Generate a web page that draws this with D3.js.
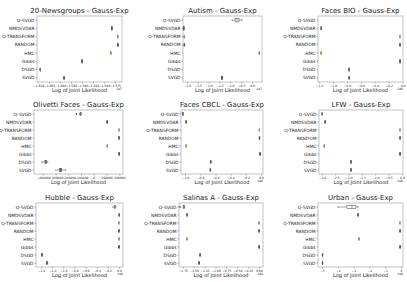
<!DOCTYPE html>
<html>
<head>
<meta charset="utf-8">
<script src="https://cdn.jsdelivr.net/npm/d3@7"></script>
<style>
  body { margin: 0; background: #fff; }
  text { font-family: "DejaVu Sans", sans-serif; fill: #222; }
</style>
</head>
<body>
<svg id="chart"></svg>
<script>
// methods, top to bottom
const methods = ["Q-SVGD", "NMDSVDAR", "Q-TRANSFORM", "RANDOM", "HMC", "Gibbs", "DSGD", "SVGD"];
const methodColors = ["#ffffff", "#b07a45", "#d9c38f", "#6e6e6e", "#eaa355", "#333333", "#a0a0a0", "#7a6a5a"];

const titles = ["20-Newsgroups - Gauss-Exp", "Autism - Gauss-Exp", "Faces BIO - Gauss-Exp",
  "Olivetti Faces - Gauss-Exp", "Faces CBCL - Gauss-Exp", "LFW - Gauss-Exp",
  "Hubble - Gauss-Exp", "Salinas A - Gauss-Exp", "Urban - Gauss-Exp"];
const exponents = ["1e7", "1e7", "1e6", "", "1e6", "1e6", "1e8", "1e9", "1e8"];

// x domains
const domains = [[-1.6105, -1.5718], [-3.18, 0.46], [-1.215, 0.005],
  [-470000, 230000], [-1.053, 0.026], [-3.11, 0.04],
  [-1.49, 0.072], [-1.84, 0.092], [-5.25, 0.13]];

// tick values
const ticks20News = [-1.610, -1.605, -1.600, -1.595, -1.590, -1.585, -1.580, -1.575];
const ticksAutism = [-3.0, -2.5, -2.0, -1.5, -1.0, -0.5, 0.0];
const ticksBio = [-1.2, -1.0, -0.8, -0.6, -0.4, -0.2, 0.0];
const ticksOlivetti = [-400000, -300000, -200000, -100000, 0, 100000, 200000];
const ticksCbcl = [-1.0, -0.8, -0.6, -0.4, -0.2, 0.0];
const ticksLfw = [-3.0, -2.5, -2.0, -1.5, -1.0, -0.5, 0.0];
const ticksHubble = [-1.4, -1.2, -1.0, -0.8, -0.6, -0.4, -0.2, 0.0];
const ticksSalinas = [-1.75, -1.50, -1.25, -1.00, -0.75, -0.50, -0.25, 0.00];
const ticksUrban = [-5, -4, -3, -2, -1, 0];

// box stats per method: [min, q1, median, q3, max]; null = not shown
const stats20News = [null,
  [-1.5765, -1.5765, -1.5764, -1.5763, -1.5763],
  [-1.5739, -1.5738, -1.5737, -1.5736, -1.5735],
  [-1.5739, -1.5738, -1.5737, -1.5736, -1.5735],
  [-1.5769, -1.5769, -1.5769, -1.5769, -1.5769],
  [-1.5901, -1.5901, -1.5900, -1.5899, -1.5899],
  [-1.6091, -1.6091, -1.6091, -1.6091, -1.6091],
  [-1.5983, -1.5983, -1.5982, -1.5981, -1.5981]];
const statsAutism = [[-0.92, -0.78, -0.69, -0.60, -0.46],
  [-3.15, -3.15, -3.15, -3.15, -3.15],
  [-3.14, -3.14, -3.12, -3.10, -3.10],
  [-3.14, -3.13, -3.12, -3.11, -3.10],
  [0.33, 0.33, 0.33, 0.33, 0.33],
  null, null,
  [-1.41, -1.41, -1.38, -1.35, -1.35]];
const statsBio = [null,
  [-1.172, -1.172, -1.172, -1.172, -1.172],
  [-0.042, -0.041, -0.039, -0.037, -0.036],
  [-0.042, -0.041, -0.039, -0.037, -0.036],
  [-1.172, -1.172, -1.172, -1.172, -1.172],
  [-0.042, -0.041, -0.039, -0.037, -0.036],
  [-0.775, -0.772, -0.770, -0.768, -0.765],
  [-0.775, -0.772, -0.770, -0.768, -0.765]];
const statsOlivetti = [[-112000, -108000, -104000, -100000, -96000],
  [100000, 103000, 105000, 107000, 110000],
  [199000, 199000, 199000, 199000, 199000],
  [195000, 197000, 199000, 201000, 203000],
  [105000, 105000, 105000, 105000, 105000],
  [196000, 198000, 199000, 200000, 202000],
  [-408000, -384000, -377000, -370000, -361000],
  [-299000, -268000, -260000, -252000, -221000]];
const statsCbcl = [[-1.032, -1.030, -1.027, -1.024, -1.022],
  [-0.992, -0.989, -0.987, -0.985, -0.982],
  [-0.023, -0.023, -0.023, -0.023, -0.023],
  [-0.024, -0.023, -0.022, -0.021, -0.020],
  [-0.987, -0.987, -0.987, -0.987, -0.987],
  [-0.018, -0.016, -0.014, -0.012, -0.010],
  [-0.667, -0.665, -0.662, -0.659, -0.657],
  [-0.672, -0.670, -0.667, -0.664, -0.662]];
const statsLfw = [[-3.01, -3.00, -2.998, -2.99, -2.98],
  [-2.895, -2.890, -2.885, -2.880, -2.875],
  [-0.073, -0.073, -0.073, -0.073, -0.073],
  [-0.085, -0.078, -0.073, -0.068, -0.060],
  [-2.92, -2.92, -2.92, -2.92, -2.92],
  [-0.085, -0.080, -0.073, -0.066, -0.060],
  [-1.93, -1.92, -1.91, -1.90, -1.89],
  [-1.92, -1.915, -1.91, -1.905, -1.90]];
const statsHubble = [[-0.11, -0.085, -0.072, -0.06, -0.055],
  [0.0, 0.0, 0.0, 0.0, 0.0],
  [-0.006, -0.004, -0.002, 0.0, 0.002],
  [-0.006, -0.004, -0.002, 0.0, 0.002],
  [0.0, 0.0, 0.0, 0.0, 0.0],
  [-0.006, -0.004, -0.002, 0.0, 0.002],
  [-1.392, -1.387, -1.382, -1.377, -1.372],
  [-1.305, -1.298, -1.293, -1.288, -1.280]];
const statsSalinas = [[-1.745, -1.735, -1.725, -1.715, -1.705],
  [-1.662, -1.659, -1.656, -1.653, -1.650],
  [-0.005, -0.003, -0.001, 0.001, 0.003],
  [-0.005, -0.003, -0.001, 0.001, 0.003],
  [-1.656, -1.656, -1.656, -1.656, -1.656],
  [-0.005, -0.003, -0.001, 0.001, 0.003],
  [-1.366, -1.361, -1.356, -1.351, -1.346],
  [-1.389, -1.384, -1.379, -1.374, -1.369]];
const statsUrban = [[-3.99, -3.42, -3.10, -2.85, -2.72],
  [-2.74, -2.73, -2.72, -2.71, -2.70],
  [-0.08, -0.07, -0.06, -0.05, -0.04],
  [-0.08, -0.07, -0.06, -0.05, -0.04],
  [-2.66, -2.66, -2.66, -2.66, -2.66],
  [-0.09, -0.07, -0.06, -0.05, -0.03],
  [-4.99, -4.98, -4.97, -4.96, -4.95],
  [-4.99, -4.98, -4.97, -4.96, -4.95]];

// outliers: [methodIndex, value]
const outliersOlivetti = [[0, -136000]];
const outliersSalinas = [[0, -1.817]];

const allTicks = [ticks20News, ticksAutism, ticksBio, ticksOlivetti, ticksCbcl, ticksLfw, ticksHubble, ticksSalinas, ticksUrban];
const allStats = [stats20News, statsAutism, statsBio, statsOlivetti, statsCbcl, statsLfw, statsHubble, statsSalinas, statsUrban];
const allOutliers = [[], [], [], outliersOlivetti, [], [], [], outliersSalinas, []];

// plot area boxes per panel [x0, x1, y0, y1]
const frames = [[37, 122, 16, 82], [183, 262, 16, 82], [318, 403, 16, 82],
  [34, 123, 110, 174], [181, 263, 110, 174], [319, 403, 110, 174],
  [36, 123, 203, 267], [179, 263, 203, 267], [318, 403, 203, 267]];

const svg = d3.select("#chart").attr("width", 407).attr("height", 282);

const tickFmt = [d3.format(".3f"), d3.format(".1f"), d3.format(".1f"), d3.format("d"),
  d3.format(".1f"), d3.format(".1f"), d3.format(".1f"), d3.format(".2f"), d3.format("d")];

titles.forEach((title, p) => {
  const [x0, x1, y0, y1] = frames[p];
  const g = svg.append("g");

  const x = d3.scaleLinear().domain(domains[p]).range([x0, x1]);
  const y = d3.scaleBand().domain(methods).range([y0, y1]);
  const bh = y.bandwidth() * 0.21;

  // frame
  g.append("rect")
    .attr("x", x0).attr("y", y0)
    .attr("width", x1 - x0).attr("height", y1 - y0)
    .attr("fill", "none").attr("stroke", "#9a9a9a").attr("stroke-width", 0.6);

  // title
  g.append("text")
    .attr("x", (x0 + x1) / 2).attr("y", y0 - 3)
    .attr("text-anchor", "middle")
    .style("font-size", "7px")
    .text(title);

  // category labels
  methods.forEach(m => {
    g.append("line")
      .attr("x1", x0 - 1.5).attr("x2", x0)
      .attr("y1", y(m) + y.bandwidth() / 2).attr("y2", y(m) + y.bandwidth() / 2)
      .attr("stroke", "#444").attr("stroke-width", 0.4);
    g.append("text")
      .attr("x", x0 - 2.5).attr("y", y(m) + y.bandwidth() / 2)
      .attr("dy", "0.35em")
      .attr("text-anchor", "end")
      .style("font-size", "4.4px")
      .text(m);
  });

  // x axis ticks
  const axis = g.append("g").attr("transform", `translate(0,${y1})`)
    .call(d3.axisBottom(x).tickValues(allTicks[p]).tickSize(1.5).tickPadding(1)
      .tickFormat(d => tickFmt[p](d).replace("-", "\u2212")));
  axis.select(".domain").remove();
  axis.selectAll("line").attr("stroke", "#444").attr("stroke-width", 0.4);
  axis.selectAll("text").style("font-size", "3px").style("font-family", "DejaVu Sans, sans-serif").attr("fill", "#333");

  // x label
  g.append("text")
    .attr("x", (x0 + x1) / 2).attr("y", y1 + 10)
    .attr("text-anchor", "middle")
    .style("font-size", "5px")
    .text("Log of Joint Likelihood");

  if (exponents[p]) {
    g.append("text")
      .attr("x", x1).attr("y", y1 + 8)
      .attr("text-anchor", "end")
      .style("font-size", "3px")
      .text(exponents[p]);
  }

  // boxes
  allStats[p].forEach((s, i) => {
    if (!s) return;
    const cy = y(methods[i]) + y.bandwidth() / 2;
    const bg = g.append("g");
    bg.append("line")
      .attr("x1", x(s[0])).attr("x2", x(s[1]))
      .attr("y1", cy).attr("y2", cy)
      .attr("stroke", "#444").attr("stroke-width", 0.5);
    bg.append("line")
      .attr("x1", x(s[3])).attr("x2", x(s[4]))
      .attr("y1", cy).attr("y2", cy)
      .attr("stroke", "#444").attr("stroke-width", 0.5);
    [s[0], s[4]].forEach(v => {
      bg.append("line")
        .attr("x1", x(v)).attr("x2", x(v))
        .attr("y1", cy - bh / 2).attr("y2", cy + bh / 2)
        .attr("stroke", "#444").attr("stroke-width", 0.5);
    });
    bg.append("rect")
      .attr("x", x(s[1])).attr("y", cy - bh)
      .attr("width", Math.max(0.6, x(s[3]) - x(s[1])))
      .attr("height", bh * 2)
      .attr("fill", methodColors[i])
      .attr("stroke", i === 4 || i === 2 ? methodColors[i] : "#444")
      .attr("stroke-width", 0.5);
    bg.append("line")
      .attr("x1", x(s[2])).attr("x2", x(s[2]))
      .attr("y1", cy - bh).attr("y2", cy + bh)
      .attr("stroke", "#444").attr("stroke-width", 0.5);
  });

  // outliers
  allOutliers[p].forEach(([i, v]) => {
    g.append("path")
      .attr("d", d3.symbol(d3.symbolDiamond, 3)())
      .attr("transform", `translate(${x(v)},${y(methods[i]) + y.bandwidth() / 2})`)
      .attr("fill", "#555");
  });
});
</script>
</body>
</html>
